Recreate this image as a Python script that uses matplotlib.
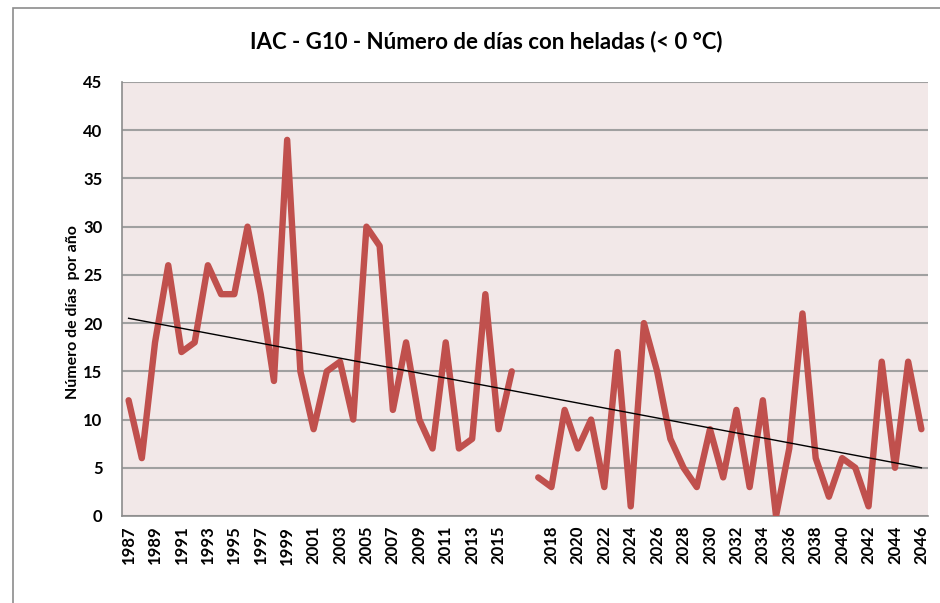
import matplotlib.pyplot as plt
import numpy as np
from matplotlib.patches import Rectangle

# datos
years_1 = list(range(1987, 2017))
dias_1 = [12, 6, 18, 26, 17, 18, 26, 23, 23, 30, 23, 14, 39, 15, 9,
          15, 16, 10, 30, 28, 11, 18, 10, 7, 18, 7, 8, 23, 9, 15]
years_2 = list(range(2017, 2047))
dias_2 = [4, 3, 11, 7, 10, 3, 17, 1, 20, 15, 8, 5, 3, 9, 4,
          11, 3, 12, 0, 7, 21, 6, 2, 6, 5, 1, 16, 5, 16, 9]
trend_ends = [20.5, 5.0]

# categorias: serie 1, un hueco, serie 2
labels = [str(y) for y in years_1] + [""] + [str(y) for y in years_2]
x1 = np.arange(len(years_1))
x2 = np.arange(len(years_2)) + len(years_1) + 1
n = len(labels)

plt.rcParams['font.family'] = ['Lato', 'DejaVu Sans']

fig = plt.figure(figsize=(9.4, 6.03), dpi=100)
fig.patches.append(Rectangle((13 / 940, -0.1), 1.1, 1.1 - 8 / 603,
                             transform=fig.transFigure, fill=False,
                             edgecolor='#8c8c8c', linewidth=1.2))
ax = fig.add_axes([122 / 940, 1 - 516 / 603, (928 - 122) / 940, (516 - 82) / 603])
ax.set_facecolor('#f2e8e8')

estilo = dict(color='#c0504d', linewidth=4.6, solid_joinstyle='round',
              solid_capstyle='round', zorder=3)
ax.plot(x1, dias_1, **estilo)
ax.plot(x2, dias_2, **estilo)
ax.plot([0, n - 1], trend_ends, color='black', linewidth=1.0, zorder=4)

ax.set_xlim(-0.5, n - 0.5)
ax.set_ylim(0, 45)
ax.set_yticks(range(0, 46, 5))
ax.yaxis.grid(True, color='#a0a0a0', linewidth=1.5)
ax.set_axisbelow(True)

ticks = list(range(0, n, 2))
ax.set_xticks(ticks)
ax.set_xticklabels([labels[i] for i in ticks], rotation=90, fontsize=12,
                   fontweight='bold')
for lab in ax.get_yticklabels():
    lab.set_fontweight('bold')
    lab.set_fontsize(12)
ax.tick_params(axis='both', length=0)
ax.tick_params(axis='y', pad=14)
ax.tick_params(axis='x', pad=7)

for s in ['top', 'right']:
    ax.spines[s].set_visible(False)
ax.spines['left'].set_color('#8c8c8c')
ax.spines['bottom'].set_color('#8c8c8c')
ax.spines['left'].set_linewidth(1.2)
ax.spines['bottom'].set_linewidth(1.2)

ax.set_ylabel('Número de días  por año', fontsize=11.5, fontweight='bold')
ax.yaxis.set_label_coords(-0.052, 0.47)
fig.text(486 / 940, 1 - 42 / 603, 'IAC - G10 - Número de días con heladas (< 0 °C)',
         ha='center', va='center', fontsize=16, fontweight='bold')

fig.savefig('out.png', dpi=100)
